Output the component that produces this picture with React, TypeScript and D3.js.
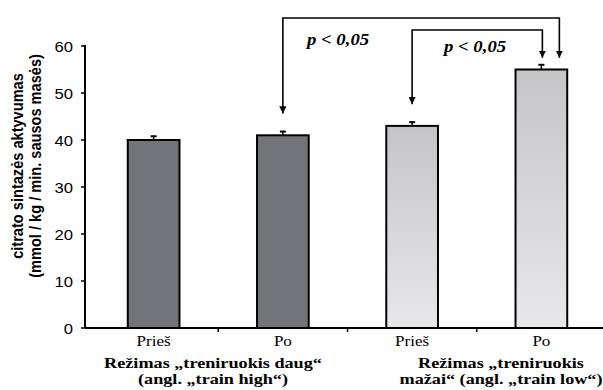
import React from "react";
import * as d3 from "d3";

const categories = ["Prieš", "Po", "Prieš", "Po"];
const groupOf = [0, 0, 1, 1];
const values = [40, 41, 43, 55];
const errors = [0.8, 0.8, 0.8, 1.0];
const yTicks = [0, 10, 20, 30, 40, 50, 60];
const groupLabels = [
  ["Režimas „treniruokis daug“", "(angl. „train high“)"],
  ["Režimas „treniruokis", "mažai“ (angl. „train low“)"],
];
const yLabel = ["citrato sintazės aktyvumas", "(mmol / kg / min. sausos masės)"];
// significance comparisons between bars
const comparisons = [
  { from: 1, to: 3, top: 18, text: "p < 0,05" },
  { from: 2, to: 3, top: 30, text: "p < 0,05" },
];

const W = 603;
const H = 390;
const serif = "Liberation Serif, Times New Roman, serif";
const sans = "Liberation Sans, Arial, sans-serif";
// the original figure is a bit wider than tall, so text looks stretched
const SX = 1.15;

const Txt = ({ x, y, sx = SX, children, ...rest }: any) => (
  <text transform={`translate(${x},${y}) scale(${sx},1)`} {...rest}>
    {children}
  </text>
);

const App = () => {
  const y = d3.scaleLinear().domain([0, 60]).range([328, 46]);
  const x = d3
    .scaleBand<number>()
    .domain(d3.range(categories.length))
    .range([89, 606])
    .paddingInner(0.6)
    .paddingOuter(0.3);
  const cx = (i: number) => (x(i) as number) + x.bandwidth() / 2;
  const step = x.step();

  const boundaries = d3.range(1, categories.length).map((i) => (x(i) as number) - (step * 0.6) / 2);
  const arrowTip = (i: number) => y(values[i] + errors[i]) - (i === 3 ? 7 : 18);

  return (
    <svg
      width={W}
      height={H}
      style={{ position: "absolute", left: 0, top: 0, background: "#fff" }}
    >
      <defs>
        <linearGradient id="lightGrad" x1="0" y1="0" x2="0" y2="1">
          <stop offset="0%" stopColor="#c5c5c7" />
          <stop offset="100%" stopColor="#e8e8ea" />
        </linearGradient>
        <marker id="arr" viewBox="0 0 10 10" refX="10" refY="5" markerWidth="4.5" markerHeight="4.5" orient="auto-start-reverse">
          <path d="M0,0 L10,5 L0,10 z" fill="#000" />
        </marker>
      </defs>

      {/* bars */}
      {values.map((v, i) => (
        <g key={i}>
          <line x1={cx(i)} x2={cx(i)} y1={y(v)} y2={y(v + errors[i])} stroke="#000" strokeWidth={1.5} />
          <line x1={cx(i) - 3} x2={cx(i) + 3} y1={y(v + errors[i])} y2={y(v + errors[i])} stroke="#000" strokeWidth={2} />
          <rect
            x={x(i)}
            y={y(v)}
            width={x.bandwidth()}
            height={y(0) - y(v)}
            fill={groupOf[i] === 0 ? "#737477" : "url(#lightGrad)"}
            stroke="#000"
            strokeWidth={2}
          />
        </g>
      ))}

      {/* x axis */}
      <line x1={85} x2={W} y1={y(0)} y2={y(0)} stroke="#000" strokeWidth={2} />
      {boundaries.map((b, i) => (
        <line key={i} x1={b} x2={b} y1={y(0)} y2={y(0) + 4} stroke="#000" strokeWidth={1.5} />
      ))}
      {categories.map((c, i) => (
        <Txt key={i} x={cx(i)} y={346} sx={1.2} textAnchor="middle" fontFamily={serif} fontSize={14.2}>
          {c}
        </Txt>
      ))}
      {groupLabels.map((lines, gi) =>
        lines.map((l, k) => (
          <Txt
            key={gi + "-" + k}
            x={gi === 0 ? 213 : 501}
            y={368 + k * 16}
            sx={1.3}
            textAnchor="middle"
            fontFamily={serif}
            fontSize={14}
            fontWeight="bold"
          >
            {l}
          </Txt>
        ))
      )}

      {/* y axis */}
      <line x1={85} x2={85} y1={y(60) - 1} y2={y(0)} stroke="#000" strokeWidth={2} />
      {yTicks.map((t) => (
        <g key={t}>
          <line x1={81} x2={85} y1={y(t)} y2={y(t)} stroke="#000" strokeWidth={1.5} />
          <Txt x={73} y={y(t) + 6} textAnchor="end" fontFamily={sans} fontSize={14.5}>
            {t}
          </Txt>
        </g>
      ))}
      <text
        transform={`translate(0,166) scale(${SX},1) rotate(-90)`}
        textAnchor="middle"
        fontFamily={sans}
        fontSize={14.6}
        fontWeight="bold"
      >
        <tspan x={0} y={23 / SX}>{yLabel[0]}</tspan>
        <tspan x={0} y={41 / SX}>{yLabel[1]}</tspan>
      </text>

      {/* significance brackets */}
      {comparisons.map((c, k) => {
        const x1 = cx(c.from);
        const x2 = cx(c.to) + (k === 0 ? 18 : 1);
        return (
          <path
            key={k}
            d={`M${x1},${arrowTip(c.from)} L${x1},${c.top} L${x2},${c.top} L${x2},${arrowTip(c.to)}`}
            fill="none"
            stroke="#000"
            strokeWidth={1.6}
            markerStart="url(#arr)"
            markerEnd="url(#arr)"
          />
        );
      })}
      <Txt x={307} y={45} sx={1.07} fontFamily={serif} fontSize={17.5} fontWeight="bold" fontStyle="italic">
        {comparisons[0].text}
      </Txt>
      <Txt x={444} y={52} sx={1.07} fontFamily={serif} fontSize={17.5} fontWeight="bold" fontStyle="italic">
        {comparisons[1].text}
      </Txt>
    </svg>
  );
};

export default App;
